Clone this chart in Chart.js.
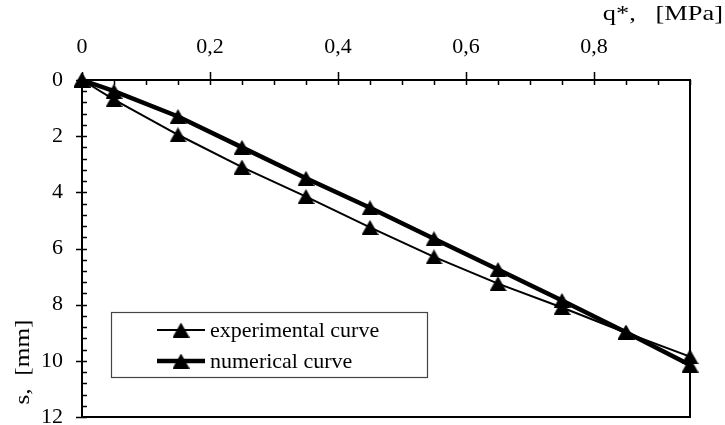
<!DOCTYPE html>
<html>
<head>
<meta charset="utf-8">
<script src="https://cdn.jsdelivr.net/npm/chart.js@4.4.1/dist/chart.umd.min.js"></script>
<style>
html, body { margin: 0; padding: 0; background: #fff; }
#wrap { width: 725px; height: 425px; }
</style>
</head>
<body>
<div id="wrap"><canvas id="c" width="725" height="425"></canvas></div>
<script>
// ---- data ----
const qValues = [0, 0.05, 0.15, 0.25, 0.35, 0.45, 0.55, 0.65, 0.75, 0.85, 0.95];
const sExperimental = [0, 0.7, 1.95, 3.1, 4.15, 5.25, 6.3, 7.25, 8.1, 9.0, 9.85];
const sNumerical = [0, 0.4, 1.3, 2.4, 3.5, 4.55, 5.65, 6.75, 7.85, 8.98, 10.15];
const seriesLabels = ['experimental curve', 'numerical curve'];
const xTickValues = [0, 0.2, 0.4, 0.6, 0.8];
const yTickValues = [0, 2, 4, 6, 8, 10, 12];
const xTitle = 'q*,   [MPa]';
const yTitle = 's,  [mm]';

// ---- styles ----
const FONT = "'Liberation Serif', 'Times New Roman', serif";
const FONT_SIZE = 22;
const X_MIN = 0, X_MAX = 0.95, Y_MIN = 0, Y_MAX = 12;
const X_MINOR_STEP = 0.05, Y_MINOR_STEP = 0.4;

function makeTriangle(w, h) {
  const c = document.createElement('canvas');
  c.width = w; c.height = h;
  const g = c.getContext('2d');
  g.fillStyle = '#000';
  g.beginPath();
  g.moveTo(w / 2, 0);
  g.lineTo(w, h);
  g.lineTo(0, h);
  g.closePath();
  g.fill();
  return c;
}
const triangle = makeTriangle(17, 15);

function toPoints(xs, ys) { return xs.map((x, i) => ({ x: x, y: ys[i] })); }

function zeroPad(s) {
  s.paddingTop = 0; s.paddingBottom = 0; s.paddingLeft = 0; s.paddingRight = 0;
}

const framePlugin = {
  id: 'frame',
  beforeDraw(chart) {
    const ctx = chart.ctx;
    ctx.save();
    ctx.fillStyle = '#fff';
    ctx.fillRect(0, 0, chart.width, chart.height);
    ctx.restore();
  },
  beforeDatasetsDraw(chart) {
    const ctx = chart.ctx;
    const a = chart.chartArea;
    const xs = chart.scales.x, ys = chart.scales.y;
    ctx.save();
    ctx.strokeStyle = '#000';
    ctx.lineWidth = 2;
    ctx.strokeRect(a.left, a.top, a.right - a.left, a.bottom - a.top);
    ctx.lineWidth = 1.5;
    ctx.beginPath();
    const nx = Math.round((X_MAX - X_MIN) / X_MINOR_STEP);
    for (let i = 0; i <= nx; i++) {
      const px = Math.round(xs.getPixelForValue(X_MIN + i * X_MINOR_STEP)) + 0.5;
      ctx.moveTo(px, a.top);
      ctx.lineTo(px, a.top + 5);
    }
    xTickValues.forEach(v => {
      const px = Math.round(xs.getPixelForValue(v)) + 0.5;
      ctx.moveTo(px, a.top - 8);
      ctx.lineTo(px, a.top + 5);
    });
    const ny = Math.round((Y_MAX - Y_MIN) / Y_MINOR_STEP);
    for (let i = 0; i <= ny; i++) {
      const py = Math.round(ys.getPixelForValue(Y_MIN + i * Y_MINOR_STEP)) + 0.5;
      ctx.moveTo(a.left, py);
      ctx.lineTo(a.left + 5, py);
    }
    yTickValues.forEach(v => {
      const py = Math.round(ys.getPixelForValue(v)) + 0.5;
      ctx.moveTo(a.left - 6, py);
      ctx.lineTo(a.left + 5, py);
    });
    ctx.stroke();
    ctx.restore();
  },
  afterDraw(chart) {
    const ctx = chart.ctx;
    ctx.save();
    ctx.fillStyle = '#000';
    ctx.font = FONT_SIZE + 'px ' + FONT;
    // x title (slightly wide lettering, as in the reference)
    ctx.save();
    ctx.translate(723, 14);
    ctx.scale(1.2, 1);
    ctx.textAlign = 'right';
    ctx.textBaseline = 'middle';
    ctx.fillText(xTitle, 0, 0);
    ctx.restore();
    // y title
    ctx.save();
    ctx.translate(23, 362);
    ctx.rotate(-Math.PI / 2);
    ctx.scale(1.15, 1);
    ctx.textAlign = 'center';
    ctx.textBaseline = 'middle';
    ctx.fillText(yTitle, 0, 0);
    ctx.restore();
    // legend
    const box = { x: 111, y: 312, w: 316, h: 65 };
    ctx.fillStyle = '#fff';
    ctx.fillRect(box.x, box.y, box.w, box.h);
    ctx.strokeStyle = '#444';
    ctx.lineWidth = 1.2;
    ctx.strokeRect(box.x + 0.5, box.y + 0.5, box.w, box.h);
    const rows = [330, 361];
    chart.data.datasets.forEach((ds, i) => {
      const yy = rows[i];
      ctx.strokeStyle = '#000';
      ctx.lineWidth = ds.borderWidth;
      ctx.beginPath();
      ctx.moveTo(157, yy);
      ctx.lineTo(205, yy);
      ctx.stroke();
      ctx.drawImage(triangle, 181 - triangle.width / 2, yy - triangle.height / 2);
      ctx.fillStyle = '#000';
      ctx.textAlign = 'left';
      ctx.textBaseline = 'alphabetic';
      ctx.fillText(ds.label, 210, yy + 7);
    });
    ctx.restore();
  }
};

Chart.defaults.font.family = FONT;
Chart.defaults.font.size = FONT_SIZE;
Chart.defaults.color = '#000';

new Chart(document.getElementById('c'), {
  type: 'line',
  data: {
    datasets: [
      {
        label: seriesLabels[0],
        data: toPoints(qValues, sExperimental),
        borderColor: '#000',
        backgroundColor: '#000',
        borderWidth: 2,
        pointStyle: triangle,
        pointRadius: 8,
        tension: 0,
        fill: false,
        clip: false
      },
      {
        label: seriesLabels[1],
        data: toPoints(qValues, sNumerical),
        borderColor: '#000',
        backgroundColor: '#000',
        borderWidth: 4.5,
        pointStyle: triangle,
        pointRadius: 8,
        tension: 0,
        fill: false,
        clip: false
      }
    ]
  },
  options: {
    responsive: false,
    animation: false,
    devicePixelRatio: 1,
    layout: { autoPadding: false, padding: { left: 0, top: 0, right: 35, bottom: 8 } },
    plugins: { legend: { display: false }, tooltip: { enabled: false } },
    scales: {
      x: {
        type: 'linear',
        position: 'top',
        min: X_MIN,
        max: X_MAX,
        grid: { display: false, drawTicks: false },
        border: { display: false },
        afterBuildTicks: s => { s.ticks = xTickValues.map(v => ({ value: v })); },
        afterFit: s => { s.height = 80; zeroPad(s); },
        ticks: {
          padding: 20,
          maxRotation: 0,
          autoSkip: false,
          color: '#000',
          font: { size: FONT_SIZE },
          callback: v => String(v).replace('.', ',')
        }
      },
      y: {
        type: 'linear',
        reverse: true,
        min: Y_MIN,
        max: Y_MAX,
        grid: { display: false, drawTicks: false },
        border: { display: false },
        afterBuildTicks: s => { s.ticks = yTickValues.map(v => ({ value: v })); },
        afterFit: s => { s.width = 82; zeroPad(s); },
        ticks: {
          padding: 19,
          autoSkip: false,
          color: '#000',
          font: { size: FONT_SIZE },
          callback: v => String(v)
        }
      }
    }
  },
  plugins: [framePlugin]
});
</script>
</body>
</html>
